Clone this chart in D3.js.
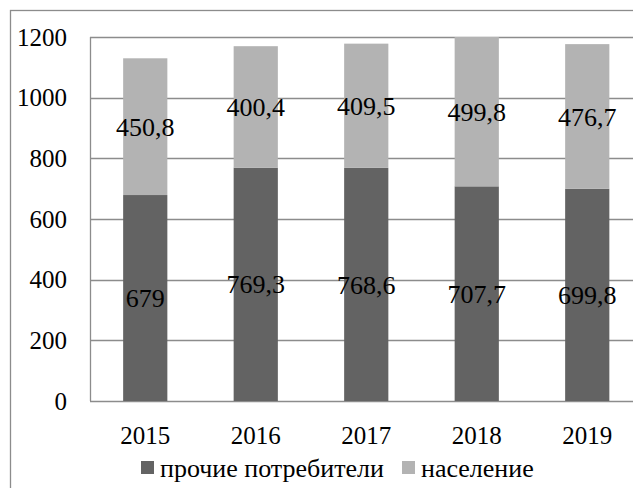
<!DOCTYPE html>
<html>
<head>
<meta charset="utf-8">
<script src="https://cdn.jsdelivr.net/npm/d3@7"></script>
<style>
  html, body { margin: 0; padding: 0; background: #fff; }
  svg { display: block; }
</style>
</head>
<body>
<svg id="chart" width="633" height="488"></svg>
<script>
// Years and the two stacked series (consumption by group)
const years = ["2015", "2016", "2017", "2018", "2019"];
const otherConsumers = [679, 769.3, 768.6, 707.7, 699.8];
const population = [450.8, 400.4, 409.5, 499.8, 476.7];
const yTicks = [0, 200, 400, 600, 800, 1000, 1200];
const seriesNames = ["прочие потребители", "население"];
const seriesColors = ["#636363", "#b3b3b3"];

const FONT = "'Liberation Serif', 'Times New Roman', serif";
const svg = d3.select("#chart");
const W = 633, H = 488;
const plot = { left: 90, top: 37, bottom: 401, right: 642.5 };

svg.append("rect").attr("width", W).attr("height", H).attr("fill", "#fff");

// outer frame of the chart area
svg.append("rect")
  .attr("x", 10.5).attr("y", 10.5)
  .attr("width", 700).attr("height", 600)
  .attr("fill", "none").attr("stroke", "#8c8c8c").attr("stroke-width", 1.3);

const x = d3.scaleBand()
  .domain(years)
  .range([plot.left, plot.right])
  .paddingInner(0.6)
  .paddingOuter(0.3);

const y = d3.scaleLinear().domain([0, 1200]).range([plot.bottom, plot.top]);

svg.append("clipPath").attr("id", "plotClip")
  .append("rect")
  .attr("x", plot.left).attr("y", plot.top)
  .attr("width", plot.right - plot.left).attr("height", plot.bottom - plot.top);

// horizontal gridlines
svg.append("g")
  .selectAll("line")
  .data(yTicks)
  .join("line")
  .attr("x1", plot.left).attr("x2", W + 10)
  .attr("y1", d => Math.round(y(d)) + 0.5)
  .attr("y2", d => Math.round(y(d)) + 0.5)
  .attr("stroke", "#8c8c8c").attr("stroke-width", 1.3);

// left axis line
svg.append("line")
  .attr("x1", plot.left + 0.5).attr("x2", plot.left + 0.5)
  .attr("y1", y(1200)).attr("y2", y(0))
  .attr("stroke", "#8c8c8c").attr("stroke-width", 1.3);

// y tick labels
const yAxis = d3.axisLeft(y).tickValues(yTicks).tickSize(0).tickPadding(0).tickFormat(d3.format("d"));
const gy = svg.append("g").attr("transform", `translate(67,0)`).call(yAxis);
gy.select(".domain").remove();
gy.selectAll("text")
  .style("font-family", FONT)
  .style("font-size", "25px")
  .attr("fill", "#000")
  .attr("dy", "0.33em");

// x tick labels
const xAxis = d3.axisBottom(x).tickSize(0).tickPadding(0);
const gx = svg.append("g").attr("transform", `translate(0,${plot.bottom + 25})`).call(xAxis);
gx.select(".domain").remove();
gx.selectAll("text")
  .style("font-family", FONT)
  .style("font-size", "25px")
  .attr("fill", "#000")
  .attr("dy", "0.71em");

// stacked bars, clipped to the plot area
const rows = years.map((yr, i) => ({ year: yr, other: otherConsumers[i], pop: population[i] }));
const keys = ["other", "pop"];
const stack = d3.stack().keys(keys)(rows);

const barsG = svg.append("g").attr("clip-path", "url(#plotClip)");
stack.forEach((layer, li) => {
  barsG.append("g")
    .selectAll("rect")
    .data(layer)
    .join("rect")
    .attr("x", d => x(d.data.year))
    .attr("width", x.bandwidth())
    .attr("y", d => y(d[1]))
    .attr("height", d => y(d[0]) - y(d[1]))
    .attr("fill", seriesColors[li]);
});

// value labels centred in each segment
const fmt = v => String(v).replace(".", ",");
stack.forEach((layer, li) => {
  svg.append("g")
    .selectAll("text")
    .data(layer)
    .join("text")
    .attr("x", d => x(d.data.year) + x.bandwidth() / 2)
    .attr("y", d => (y(d[0]) + Math.max(y(d[1]), plot.top)) / 2)
    .attr("dy", "0.35em")
    .attr("text-anchor", "middle")
    .style("font-family", FONT)
    .style("font-size", "26px")
    .attr("fill", "#000")
    .text(d => fmt(d.data[keys[li]]));
});

// legend
const legend = svg.append("g");
const legendItems = [
  { name: seriesNames[0], color: seriesColors[0], x: 141 },
  { name: seriesNames[1], color: seriesColors[1], x: 402 }
];
legendItems.forEach(it => {
  legend.append("rect")
    .attr("x", it.x).attr("y", 461)
    .attr("width", 13).attr("height", 13)
    .attr("fill", it.color);
  legend.append("text")
    .attr("x", it.x + 19).attr("y", 477)
    .style("font-family", FONT)
    .style("font-size", "26px")
    .attr("fill", "#000")
    .text(it.name);
});
</script>
</body>
</html>
